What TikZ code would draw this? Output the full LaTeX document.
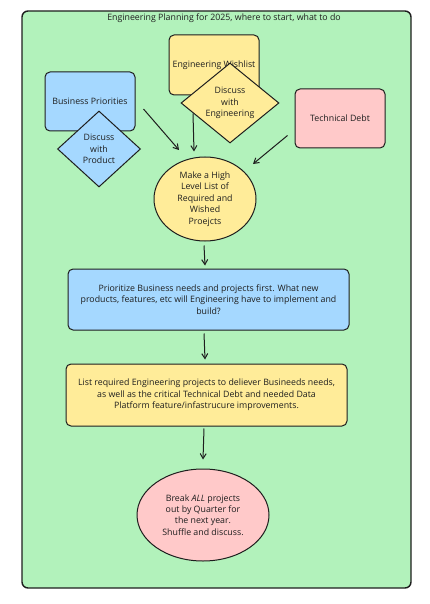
\documentclass[tikz,border=0pt]{standalone}
\usepackage{fontspec}
\setmainfont{Open Sans}
\usetikzlibrary{shapes.geometric,arrows.meta}

\definecolor{ink}{HTML}{1E1E1E}
\definecolor{frameGreen}{HTML}{B2F2BB}
\definecolor{noteYellow}{HTML}{FFEC99}
\definecolor{noteBlue}{HTML}{A5D8FF}
\definecolor{notePink}{HTML}{FFC9C9}

\tikzset{every picture/.style={line width=1pt}}
\tikzset{
  txt/.style={font=\fontsize{8.8}{11.4}\selectfont, text=ink},
  card/.style={txt, draw=ink, rounded corners=5pt, align=center, inner sep=1pt},
  choice/.style={txt, draw=ink, diamond, align=center, inner sep=0pt},
  blob/.style={txt, draw=ink, ellipse, align=center, inner sep=0pt},
  flow/.style={draw=ink, -{Straight Barb[length=5pt,width=6pt]}},
}

\begin{document}
\begin{tikzpicture}[x=1pt,y=1pt,yscale=-1]
        \useasboundingbox (0,0) rectangle (429,604);

        %Frame
        \draw [draw=ink, fill=frameGreen, line width=1.4pt, rounded corners=6pt] (22,11) rectangle (411,588);
        \node (title) [txt] at (224,18) {Engineering Planning for 2025, where to start, what to do};

        %Top row
        \node (wish) [card, fill=noteYellow, minimum width=90, minimum height=60] at (214,65) {Engineering Wishlist};
        \node (wishTalk) [choice, fill=noteYellow, minimum width=98, minimum height=69] at (230,103) {Discuss\\with\\Engineering};

        \node (biz) [card, fill=noteBlue, minimum width=90, minimum height=59] at (90,101.5) {Business Priorities};
        \node (bizTalk) [choice, fill=noteBlue, minimum width=83, minimum height=76] at (99,149) {Discuss\\with\\Product};

        \node (debt) [card, fill=notePink, minimum width=90, minimum height=59] at (340,118.5) {Technical Debt};

        %Flow
        \node (plan) [blob, fill=noteYellow, minimum width=102, minimum height=84] at (205,199) {Make a High\\Level List of\\Required and\\Wished\\Proejcts};

        \node (prio) [card, fill=noteBlue, minimum width=281, minimum height=61] at (208.5,299.5) {Prioritize Business needs and projects first. What new\\products, features, etc will Engineering have to implement and\\build?};

        \node (list) [card, fill=noteYellow, minimum width=281, minimum height=62] at (206.5,395) {List required Engineering projects to deliever Busineeds needs,\\as well as the critical Technical Debt and needed Data\\Platform feature/infastrucure improvements.};

        \node (quarter) [blob, fill=notePink, minimum width=132, minimum height=92] at (203,515) {Break \textit{ALL} projects\\out by Quarter for\\the next year.\\Shuffle and discuss.};

        %Connectors
        \draw [flow] ([xshift=8,yshift=7.5]biz.east) -- ([xshift=-26,yshift=-49]plan.center);
        \draw [flow] ([xshift=-21,yshift=18]wish.south) -- ([xshift=-11,yshift=-5]plan.north);
        \draw [flow] ([xshift=-7,yshift=-13]debt.south west) -- ([xshift=48,yshift=-35]plan.center);
        \draw [flow] ([xshift=-1,yshift=4]plan.south) -- ([xshift=-3.5,yshift=-3]prio.north);
        \draw [flow] ([xshift=-4.5,yshift=3]prio.south) -- ([xshift=-1.5,yshift=-4]list.north);
        \draw [flow] ([xshift=-2.5,yshift=2]list.south) -- ([yshift=-9]quarter.north);

\end{tikzpicture}
\end{document}
